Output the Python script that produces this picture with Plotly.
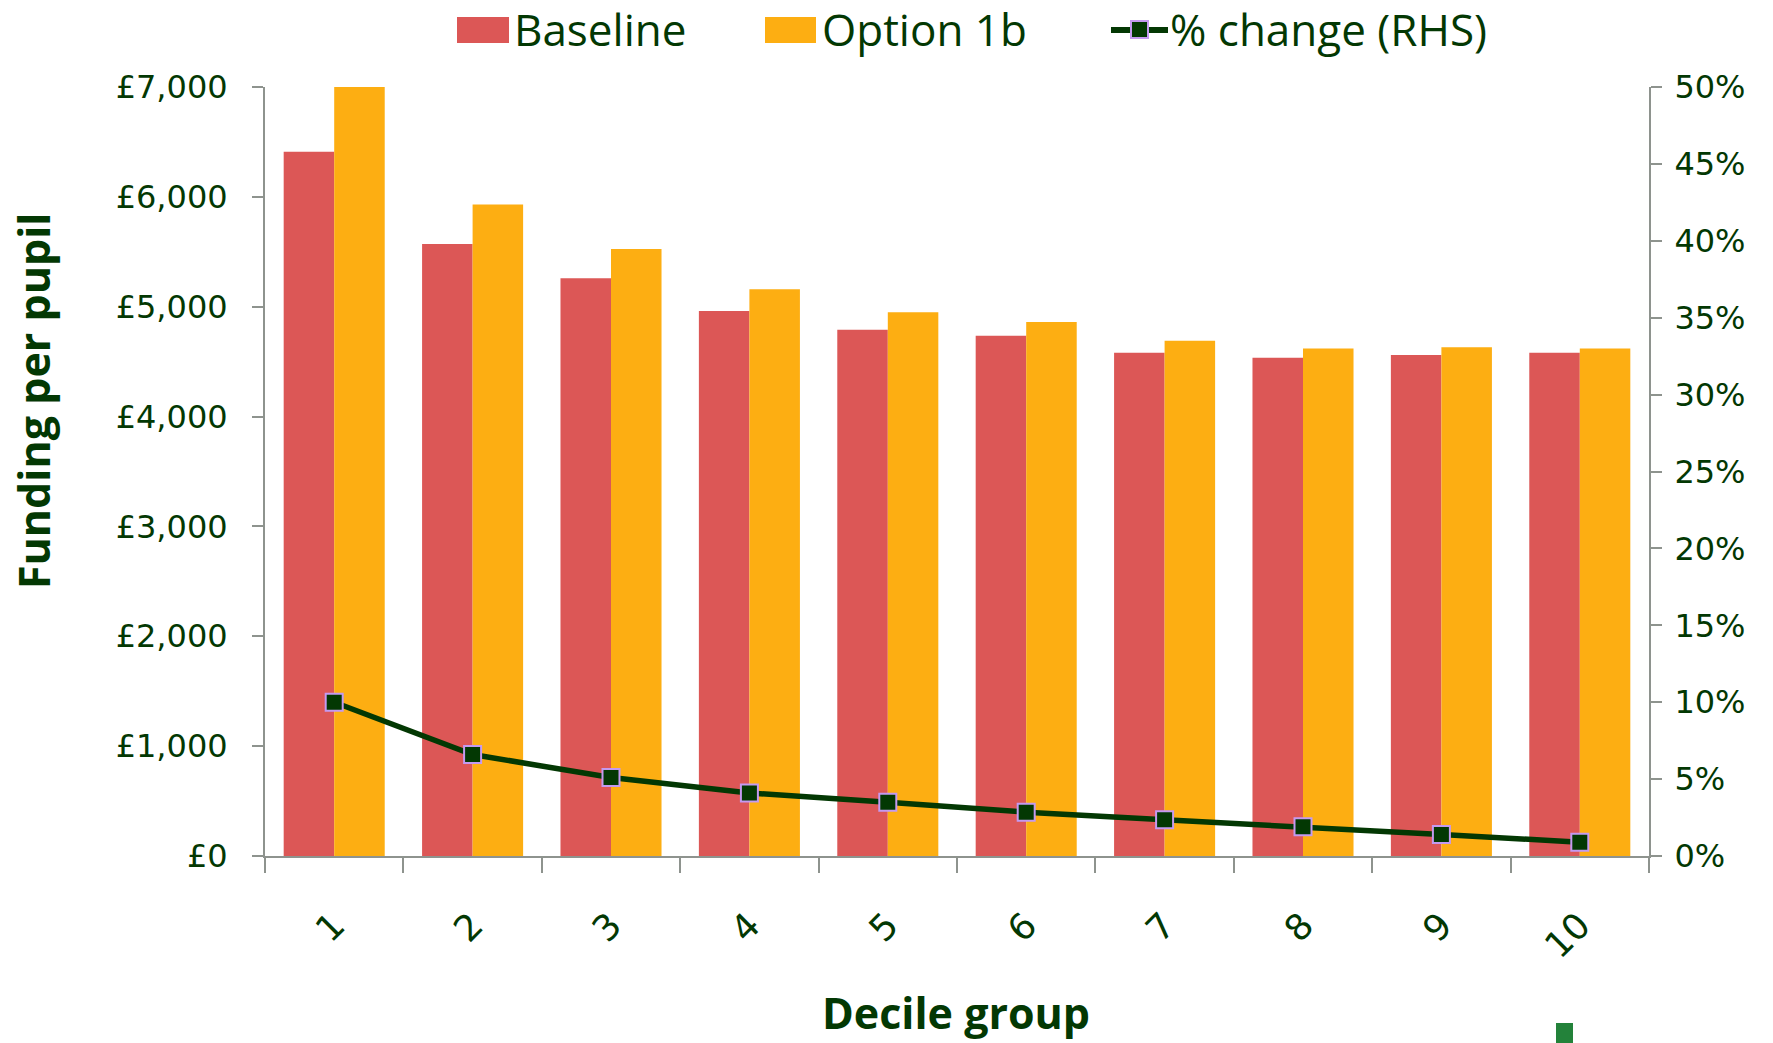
import plotly.graph_objects as go

# Funding per pupil by decile group, baseline vs Option 1b, with % change on the right axis
deciles = ["1", "2", "3", "4", "5", "6", "7", "8", "9", "10"]
baseline = [6410, 5570, 5260, 4960, 4790, 4735, 4580, 4535, 4560, 4580]
option_1b = [7050, 5930, 5525, 5160, 4950, 4860, 4690, 4620, 4630, 4620]
pct_change = [0.100, 0.066, 0.051, 0.041, 0.035, 0.0285, 0.0235, 0.019, 0.014, 0.009]

left_ticks = [0, 1000, 2000, 3000, 4000, 5000, 6000, 7000]
left_tick_labels = ["£0", "£1,000", "£2,000", "£3,000", "£4,000", "£5,000", "£6,000", "£7,000"]
right_ticks = [0, 0.05, 0.10, 0.15, 0.20, 0.25, 0.30, 0.35, 0.40, 0.45, 0.50]

RED = "#dc5756"
ORANGE = "#fdae12"
DARK_GREEN = "#033803"
MARKER_EDGE = "#c49af0"
AXIS_GREY = "#8e938e"
TICK_FONT = dict(family="DejaVu Sans", size=32, color=DARK_GREEN)

W, H = 1773, 1043
PL, PR, PT, PB = 265, 1649, 87, 856  # plot area in pixels


def px(x):
    return (x - PL) / (PR - PL)


def py(y):
    return (PB - y) / (PB - PT)


fig = go.Figure()
fig.add_trace(go.Bar(x=deciles, y=baseline, name="Baseline", marker_color=RED,
                     marker_line_width=0))
fig.add_trace(go.Bar(x=deciles, y=option_1b, name="Option 1b", marker_color=ORANGE,
                     marker_line_width=0))
fig.add_trace(go.Scatter(x=deciles, y=pct_change, name="% change (RHS)", yaxis="y2",
                         mode="lines+markers", cliponaxis=False,
                         line=dict(color=DARK_GREEN, width=5.5),
                         marker=dict(symbol="square", size=17, color=DARK_GREEN,
                                     line=dict(color=MARKER_EDGE, width=2))))

fig.update_layout(
    width=W, height=H,
    margin=dict(l=PL, r=W - PR, t=PT, b=H - PB, autoexpand=False),
    paper_bgcolor="white", plot_bgcolor="white",
    barmode="group", bargap=0.27, bargroupgap=0,
    showlegend=False,
    xaxis=dict(type="category", range=[-0.5, 9.5], autorange=False,
               tickson="boundaries", ticks="outside", ticklen=15,
               tickwidth=2, tickcolor=AXIS_GREY, showline=True, linecolor=AXIS_GREY,
               linewidth=2, showgrid=False, tickangle=-45,
               tickfont=dict(family="DejaVu Sans", size=36, color=DARK_GREEN),
               ticklabelstandoff=32, automargin=False),
    yaxis=dict(range=[0, 7000], tickvals=left_ticks, ticktext=left_tick_labels,
               ticks="outside", ticklen=11, tickwidth=2, tickcolor=AXIS_GREY,
               showline=True, linecolor=AXIS_GREY, linewidth=2, showgrid=False,
               zeroline=False, tickfont=TICK_FONT, ticklabelstandoff=18,
               automargin=False),
    yaxis2=dict(range=[0, 0.5], tickvals=right_ticks, tickformat=".0%", overlaying="y",
                side="right", ticks="outside", ticklen=11, tickwidth=2,
                tickcolor=AXIS_GREY, showline=True, linecolor=AXIS_GREY, linewidth=2,
                showgrid=False, zeroline=False, tickfont=TICK_FONT, ticklabelstandoff=6,
                automargin=False),
)

# Axis titles
fig.add_annotation(text="<b>Decile group</b>", xref="paper", yref="paper",
                   x=px(956), y=py(1012), xanchor="center", yanchor="middle",
                   showarrow=False,
                   font=dict(family="Open Sans", size=43, color=DARK_GREEN))
fig.add_annotation(text="<b>Funding per pupil</b>", xref="paper", yref="paper",
                   x=px(34), y=py(401), xanchor="center", yanchor="middle",
                   showarrow=False, textangle=-90,
                   font=dict(family="Open Sans", size=43, color=DARK_GREEN))

# Legend drawn along the top
LEG_FONT = dict(family="Open Sans", size=44, color=DARK_GREEN)
fig.add_shape(type="rect", xref="paper", yref="paper", x0=px(457), x1=px(509),
              y0=py(43), y1=py(17), fillcolor=RED, line_width=0)
fig.add_annotation(text="Baseline", xref="paper", yref="paper", x=px(512), y=py(29),
                   xanchor="left", yanchor="middle", showarrow=False, font=LEG_FONT)
fig.add_shape(type="rect", xref="paper", yref="paper", x0=px(765), x1=px(816),
              y0=py(43), y1=py(17), fillcolor=ORANGE, line_width=0)
fig.add_annotation(text="Option 1b", xref="paper", yref="paper", x=px(820), y=py(29),
                   xanchor="left", yanchor="middle", showarrow=False, font=LEG_FONT)
fig.add_shape(type="line", xref="paper", yref="paper", x0=px(1111), x1=px(1168),
              y0=py(30), y1=py(30), line=dict(color=DARK_GREEN, width=6))
fig.add_shape(type="rect", xref="paper", yref="paper", x0=px(1131), x1=px(1148),
              y0=py(38), y1=py(21), fillcolor=DARK_GREEN,
              line=dict(color=MARKER_EDGE, width=2))
fig.add_annotation(text="% change (RHS)", xref="paper", yref="paper", x=px(1168),
                   y=py(29), xanchor="left", yanchor="middle", showarrow=False,
                   font=LEG_FONT)

# Small green block at the lower right edge
fig.add_shape(type="rect", xref="paper", yref="paper", x0=px(1556), x1=px(1573),
              y0=py(1043), y1=py(1023), fillcolor="#23823a", line_width=0)

fig.write_html("out.html")
